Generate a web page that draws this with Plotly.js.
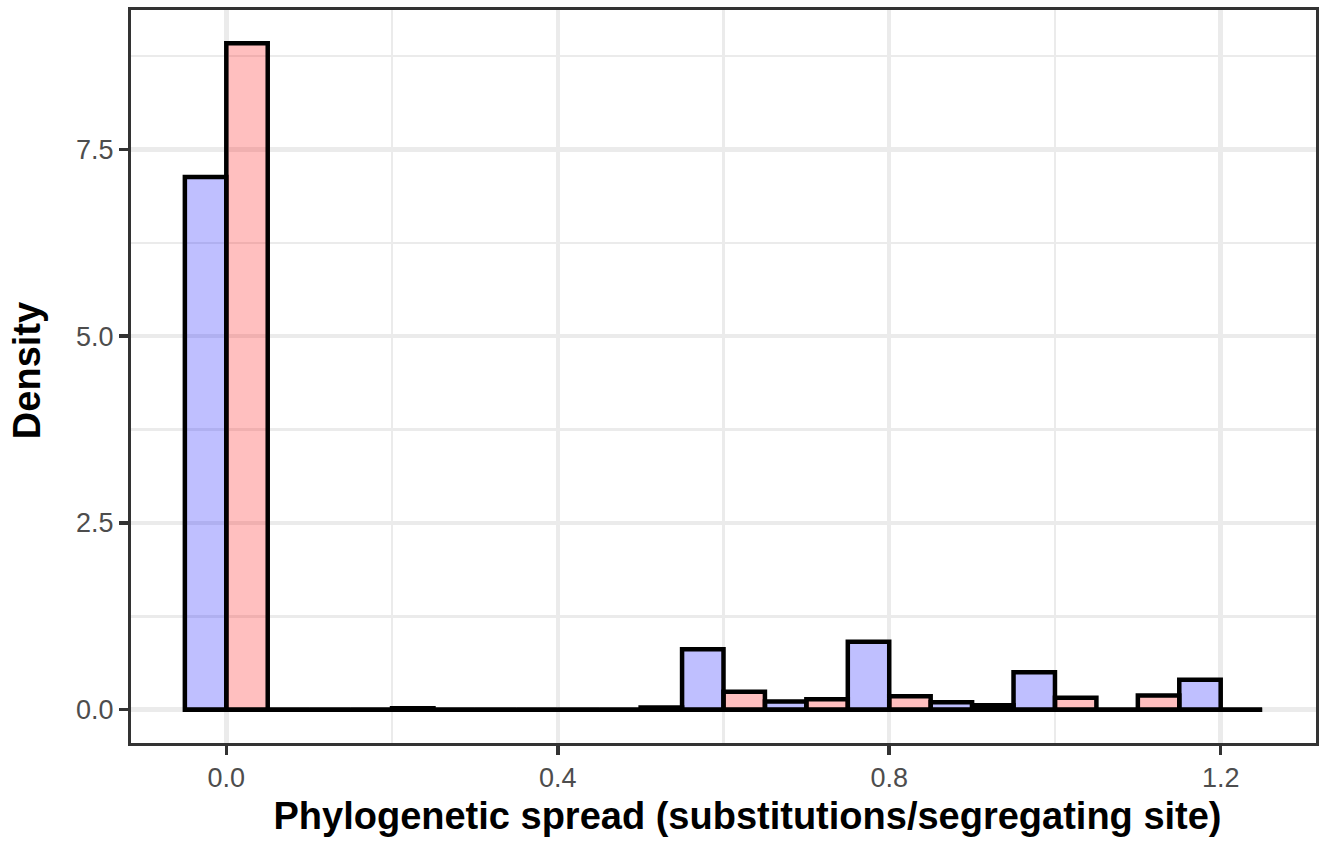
<!DOCTYPE html>
<html>
<head>
<meta charset="utf-8">
<script src="https://cdn.plot.ly/plotly-3.0.1.min.js"></script>
<style>
html,body{margin:0;padding:0;background:#fff;}
#chart{width:1323px;height:841px;}
.g-xtitle{transform:translateX(24px);}
.g-ytitle{transform:translateY(-6px);}
</style>
</head>
<body>
<div id="chart"></div>
<script>
// Bin centres (binwidth 0.1) and densities per group
const binCenters = [0.0, 0.1, 0.2, 0.3, 0.4, 0.5, 0.6, 0.7, 0.8, 0.9, 1.0, 1.1, 1.2];
const blueDensity = [7.13, 0, 0, 0, 0, 0, 0.81, 0.11, 0.91, 0.10, 0.50, 0, 0.40];
const pinkDensity = [8.92, 0, 0.02, 0, 0, 0.03, 0.24, 0.14, 0.18, 0.06, 0.16, 0.19, 0];
const binWidth = 0.1;
const xTickVals = [0.0, 0.4, 0.8, 1.2];
const xTickText = ["0.0", "0.4", "0.8", "1.2"];
const yTickVals = [0, 2.5, 5, 7.5];
const yTickText = ["0.0", "2.5", "5.0", "7.5"];

const FONT = "Liberation Sans, Arial, Helvetica, sans-serif";
const half = binWidth / 2;

const barLine = {color: "#000", width: 4.5};
const traces = [
  {
    type: "bar", x: binCenters, y: blueDensity,
    width: half, offset: -half,
    marker: {color: "rgba(0,0,255,0.25)", line: barLine},
    hoverinfo: "x+y", showlegend: false
  },
  {
    type: "bar", x: binCenters, y: pinkDensity,
    width: half, offset: 0,
    marker: {color: "rgba(255,0,0,0.25)", line: barLine},
    hoverinfo: "x+y", showlegend: false
  },
  {
    // outline of the empty bins along the baseline
    type: "scatter", mode: "lines",
    x: [Math.min(...binCenters) - half, Math.max(...binCenters) + half],
    y: [0, 0],
    line: {color: "#000", width: 4.5},
    hoverinfo: "skip", showlegend: false
  }
];

const layout = {
  width: 1323, height: 841,
  margin: {l: 131, r: 7, t: 10, b: 98},
  paper_bgcolor: "#fff", plot_bgcolor: "#fff",
  barmode: "overlay",
  font: {family: FONT, color: "#4D4D4D"},
  xaxis: {
    range: [-0.115, 1.315],
    tickvals: xTickVals, ticktext: xTickText,
    ticks: "outside", ticklen: 9, tickwidth: 3.5, tickcolor: "#333",
    tickfont: {family: FONT, size: 27, color: "#4D4D4D"},
    showgrid: true, gridcolor: "#EBEBEB", gridwidth: 4.5,
    minor: {dtick: 0.2, tick0: 0, showgrid: true, gridcolor: "#EBEBEB", gridwidth: 2.5, ticks: ""},
    zeroline: false,
    showline: true, mirror: true, linecolor: "#333", linewidth: 3,
    title: {text: "<b>Phylogenetic spread (substitutions/segregating site)</b>",
            font: {family: FONT, size: 38, color: "#000"}, standoff: 10},
    automargin: false
  },
  yaxis: {
    range: [-0.446, 9.366],
    tickvals: yTickVals, ticktext: yTickText,
    ticks: "outside", ticklen: 9, tickwidth: 3.5, tickcolor: "#333",
    tickfont: {family: FONT, size: 27, color: "#4D4D4D"},
    showgrid: true, gridcolor: "#EBEBEB", gridwidth: 4.5,
    minor: {dtick: 1.25, tick0: 0, showgrid: true, gridcolor: "#EBEBEB", gridwidth: 2.5, ticks: ""},
    zeroline: false,
    showline: true, mirror: true, linecolor: "#333", linewidth: 3,
    title: {text: "<b>Density</b>", font: {family: FONT, size: 38, color: "#000"}, standoff: 24},
    automargin: false
  }
};

Plotly.newPlot("chart", traces, layout, {displayModeBar: false, staticPlot: true});
</script>
</body>
</html>
